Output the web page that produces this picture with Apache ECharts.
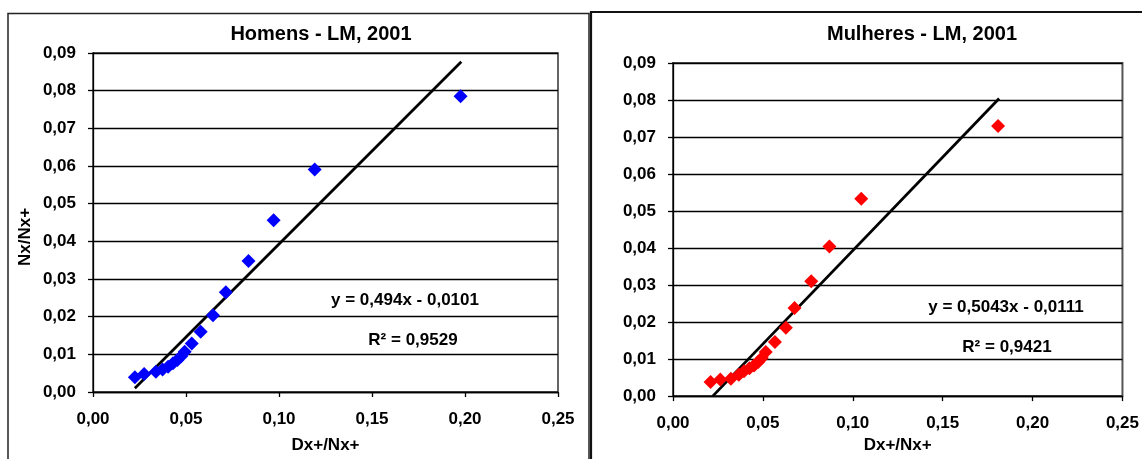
<!DOCTYPE html>
<html>
<head>
<meta charset="utf-8">
<script src="https://cdn.jsdelivr.net/npm/echarts@6/dist/echarts.min.js"></script>
<style>
  html, body { margin: 0; padding: 0; background: #fff; }
  #chart { width: 1142px; height: 459px; }
</style>
</head>
<body>
<div id="chart"></div>
<script>
// ---- Data ----
const titles = ['Homens - LM, 2001', 'Mulheres - LM, 2001'];
const xAxisName = 'Dx+/Nx+';
const yAxisName = 'Nx/Nx+';
const xTicks = [0, 0.05, 0.10, 0.15, 0.20, 0.25];
const yTicks = [0, 0.01, 0.02, 0.03, 0.04, 0.05, 0.06, 0.07, 0.08, 0.09];

// Homens: [Dx+/Nx+, Nx/Nx+]
const homensPoints = [
  [0.0225, 0.0039], [0.0275, 0.0048], [0.0338, 0.0054], [0.0374, 0.0060],
  [0.0404, 0.0067], [0.0430, 0.0076], [0.0454, 0.0085], [0.0474, 0.0095],
  [0.0493, 0.0107], [0.0531, 0.0129], [0.0579, 0.0160], [0.0645, 0.0204],
  [0.0714, 0.0265], [0.0836, 0.0348], [0.0971, 0.0456], [0.1192, 0.0591],
  [0.1976, 0.0785]
];
// Mulheres
const mulheresPoints = [
  [0.0209, 0.0038], [0.0263, 0.0045], [0.0322, 0.0047], [0.0366, 0.0058],
  [0.0395, 0.0067], [0.0425, 0.0075], [0.0451, 0.0083], [0.0474, 0.0092],
  [0.0494, 0.0103], [0.0516, 0.0119], [0.0567, 0.0146], [0.0628, 0.0185],
  [0.0676, 0.0238], [0.0769, 0.0310], [0.0870, 0.0404], [0.1047, 0.0533],
  [0.1808, 0.0730]
];
// Trend line end points as drawn in the picture
const homensTrend = [[0.0225, 0.0010], [0.1980, 0.0877]];
const mulheresTrend = [[0.0221, 0.0000], [0.1814, 0.0804]];

const equations = ['y = 0,494x - 0,0101', 'y = 0,5043x - 0,0111'];
const rSquared = ['R² = 0,9529', 'R² = 0,9421'];

// ---- Chart ----
const FONT = '"Liberation Sans", Arial, sans-serif';
const fmt = v => v.toFixed(2).replace('.', ',');

function xAxis(gridIndex, nameGap) {
  return {
    type: 'value', gridIndex, min: xTicks[0], max: xTicks[xTicks.length - 1], interval: 0.05,
    name: xAxisName, nameLocation: 'middle', nameGap,
    nameTextStyle: { fontFamily: FONT, fontWeight: 'bold', fontSize: 17, color: '#000' },
    axisLine: { show: true, lineStyle: { color: '#000', width: 1.3 } },
    axisTick: { show: true, inside: false, length: 5, lineStyle: { color: '#000', width: 1.3 } },
    axisLabel: { formatter: fmt, margin: 19, fontFamily: FONT, fontWeight: 'bold', fontSize: 17, color: '#000' },
    splitLine: { show: false }
  };
}
function yAxis(gridIndex) {
  return {
    type: 'value', gridIndex, min: yTicks[0], max: yTicks[yTicks.length - 1], interval: 0.01,
    axisLine: { show: true, lineStyle: { color: '#000', width: 1.3 } },
    axisTick: { show: true, inside: false, length: 5, lineStyle: { color: '#000', width: 1.3 } },
    axisLabel: { formatter: fmt, margin: 17, fontFamily: FONT, fontWeight: 'bold', fontSize: 17, color: '#000' },
    splitLine: { show: true, lineStyle: { color: '#000', width: 1.3 } }
  };
}

function txt(x, y, text, size, extra) {
  return Object.assign({
    type: 'text', x, y, z: 10,
    style: {
      text, fontFamily: FONT, fontWeight: 'bold', fontSize: size, fill: '#000',
      textAlign: 'center', textVerticalAlign: 'middle'
    }
  }, extra || {});
}

const option = {
  backgroundColor: '#fff',
  animation: false,
  grid: [
    { left: 93, top: 53, width: 465, height: 339, show: true, borderColor: '#333', borderWidth: 1.5, containLabel: false },
    { left: 673, top: 63, width: 454, height: 334, show: true, borderColor: '#555', borderWidth: 2, containLabel: false }
  ],
  xAxis: [xAxis(0, 45), xAxis(1, 40)],
  yAxis: [yAxis(0), yAxis(1)],
  series: [
    { type: 'line', xAxisIndex: 0, yAxisIndex: 0, data: homensTrend, symbol: 'none',
      lineStyle: { color: '#000', width: 2.8 }, z: 3 },
    { type: 'scatter', xAxisIndex: 0, yAxisIndex: 0, data: homensPoints, symbol: 'diamond', symbolSize: 14,
      itemStyle: { color: '#0000FF', opacity: 1 }, z: 4 },
    { type: 'line', xAxisIndex: 1, yAxisIndex: 1, data: mulheresTrend, symbol: 'none',
      lineStyle: { color: '#000', width: 2.8 }, z: 3 },
    { type: 'scatter', xAxisIndex: 1, yAxisIndex: 1, data: mulheresPoints, symbol: 'diamond', symbolSize: 14,
      itemStyle: { color: '#FF0000', opacity: 1 }, z: 4 }
  ],
  graphic: [
    // chart frames
    { type: 'rect', shape: { x: 8, y: 13.5, width: 581, height: 520 }, style: { fill: 'none', stroke: '#222', lineWidth: 1.5 }, z: 0 },
    { type: 'rect', shape: { x: 591, y: 12, width: 620, height: 520 }, style: { fill: 'none', stroke: '#111', lineWidth: 2.2 }, z: 0 },
    // titles
    txt(321, 34, titles[0], 20),
    txt(922, 34, titles[1], 20),
    // y axis name (left chart only)
    txt(25, 237, yAxisName, 17, { rotation: Math.PI / 2 }),
    // equations and R²
    txt(405, 300, equations[0], 17),
    txt(413, 340, rSquared[0], 17),
    txt(1006, 307, equations[1], 17),
    txt(1007, 347, rSquared[1], 17)
  ]
};

const chart = echarts.init(document.getElementById('chart'), null, { renderer: 'canvas' });
chart.setOption(option);
</script>
</body>
</html>
